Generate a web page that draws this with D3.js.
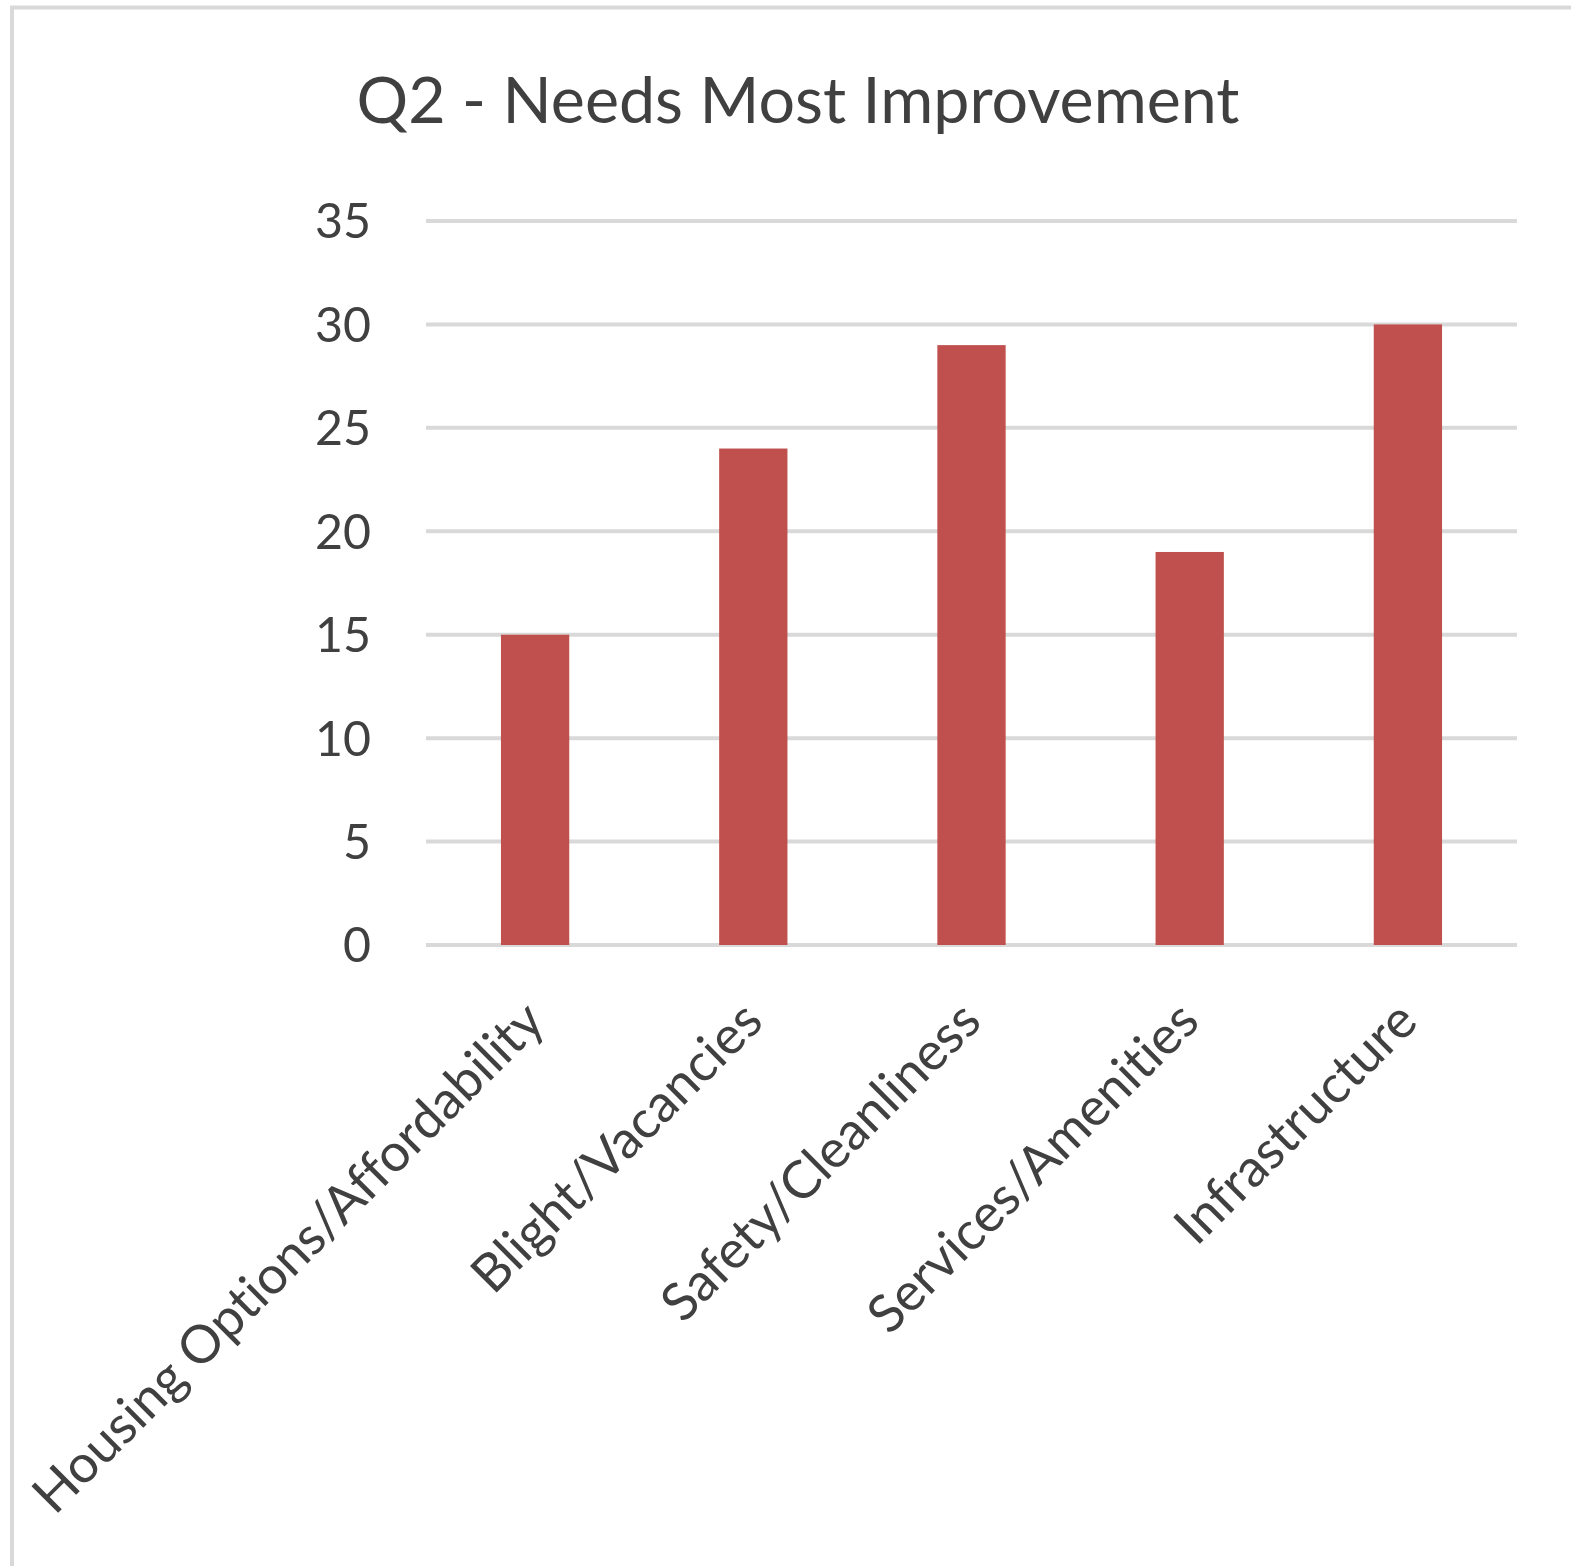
<!DOCTYPE html>
<html>
<head>
<meta charset="utf-8">
<script src="https://cdn.jsdelivr.net/npm/d3@7"></script>
<style>
  html, body { margin: 0; padding: 0; background: #ffffff; overflow: hidden; }
  svg { display: block; }
  text { font-family: "Lato", "Open Sans", sans-serif; fill: #404040; font-variant-ligatures: none; font-feature-settings: "liga" 0, "clig" 0; }
</style>
</head>
<body>
<script>
const titleText = "Q2 - Needs Most Improvement";
const categories = ["Housing Options/Affordability", "Blight/Vacancies", "Safety/Cleanliness", "Services/Amenities", "Infrastructure"];
const values = [15, 24, 29, 19, 30];
const yTicks = [0, 5, 10, 15, 20, 25, 30, 35];

const W = 1571, H = 1566;
const svg = d3.select("body").append("svg").attr("width", W).attr("height", H);

// chart border
svg.append("rect")
  .attr("x", 12).attr("y", 7.5)
  .attr("width", W + 20).attr("height", H + 20)
  .attr("fill", "#ffffff").attr("stroke", "#d9d9d9").attr("stroke-width", 4);

const x = d3.scaleBand().domain(categories).range([426, 1517]).paddingInner(0.687).paddingOuter(0.3435);
const y = d3.scaleLinear().domain([0, 35]).range([945, 221]);

// helper: fit font size to target width
function fitSize(sel, target) {
  let fs = parseFloat(sel.attr("font-size"));
  for (let i = 0; i < 4; i++) {
    const w = sel.node().getComputedTextLength();
    fs = fs * target / w;
    sel.attr("font-size", fs);
  }
  return fs;
}

// measure tick font size
const probe = svg.append("text").attr("font-size", 50).text("35");
const tickFs = fitSize(probe, 56);
probe.remove();
const catFs = tickFs * 1.09;

// gridlines
svg.append("g").selectAll("line").data(yTicks).join("line")
  .attr("x1", 426).attr("x2", 1517)
  .attr("y1", d => y(d)).attr("y2", d => y(d))
  .attr("stroke", "#d9d9d9").attr("stroke-width", 4);

// y axis labels
const yAxis = d3.axisLeft(y).tickValues(yTicks).tickSize(0).tickPadding(0).tickFormat(d3.format("d"));
const gy = svg.append("g").attr("transform", "translate(371,0)").call(yAxis);
gy.select(".domain").remove();
gy.selectAll("text")
  .attr("font-size", tickFs)
  .attr("font-family", "Lato, 'Open Sans', sans-serif")
  .attr("fill", "#404040")
  .attr("dy", "0.35em");

// bars
svg.append("g").selectAll("rect").data(values).join("rect")
  .attr("x", (d, i) => x(categories[i]))
  .attr("width", x.bandwidth())
  .attr("y", d => y(d))
  .attr("height", d => y(0) - y(d))
  .attr("fill", "#c0504d");

// category labels
const xAxis = d3.axisBottom(x).tickSize(0).tickPadding(0);
const gx = svg.append("g").attr("transform", `translate(0,${y(0)})`).call(xAxis);
gx.select(".domain").remove();
gx.selectAll(".tick text")
  .attr("font-size", catFs)
  .attr("font-family", "Lato, 'Open Sans', sans-serif")
  .attr("fill", "#404040")
  .attr("text-anchor", "end")
  .attr("dy", null)
  .attr("y", 0)
  .attr("transform", "translate(12,79) rotate(-45)");

// title
const t = svg.append("text")
  .attr("x", 798).attr("y", 123)
  .attr("text-anchor", "middle")
  .attr("font-size", 70)
  .text(titleText);
fitSize(t, 883);
</script>
</body>
</html>
